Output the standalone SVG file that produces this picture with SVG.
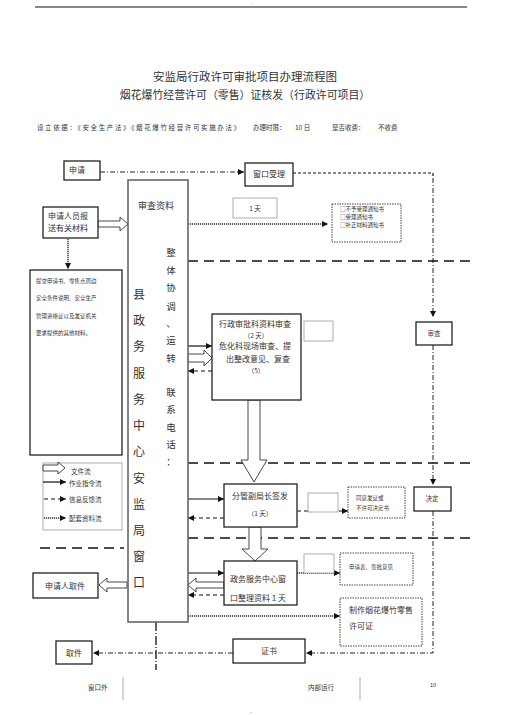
<svg xmlns="http://www.w3.org/2000/svg" width="505" height="715" viewBox="0 0 505 715">
<defs>
<style>
text{font-family:"Noto Sans CJK SC","Liberation Serif",serif;fill:#333}
.t8{font-size:8px}
.t7{font-size:6.5px}
.t6{font-size:5.5px}
.box{fill:#fff;stroke:#222;stroke-width:1.3}
.thin{fill:#fff;stroke:#999;stroke-width:0.8}
.dotbox{fill:#fff;stroke:#444;stroke-width:1;stroke-dasharray:1.5 1}
.hol{fill:#fff;stroke:#333;stroke-width:0.9}
.dashL{fill:none;stroke:#111;stroke-width:1.5;stroke-dasharray:10 6}
.dashS{fill:none;stroke:#111;stroke-width:1.2;stroke-dasharray:3 2}
.dashdot{fill:none;stroke:#222;stroke-width:1;stroke-dasharray:5 2 1 2}
.dot{fill:none;stroke:#333;stroke-width:1.4;stroke-dasharray:1.2 0.8}
.solid{fill:none;stroke:#111;stroke-width:1.2}
.fb{fill:none;stroke:#111;stroke-width:1.2;stroke-dasharray:4 3}
</style>
<marker id="ah" viewBox="0 0 10 10" refX="10" refY="5" markerWidth="6" markerHeight="6" markerUnits="userSpaceOnUse" orient="auto"><path d="M0,0 L10,5 L0,10 z" fill="#111"/></marker>
</defs>
<rect width="505" height="715" fill="#fff"/>
<line x1="35" y1="7" x2="467" y2="7" stroke="#111" stroke-width="1"/>
<text x="251" y="5.5" font-size="4" font-family="Liberation Sans,sans-serif" text-anchor="middle">-</text>
<text x="245" y="81" font-size="11.5" text-anchor="middle">安监局行政许可审批项目办理流程图</text>
<text x="245" y="99" font-size="10.9" text-anchor="middle">烟花爆竹经营许可（零售）证核发（行政许可项目）</text>
<text x="37" y="130" class="t7" textLength="203">设立依据：《安全生产法》《烟花爆竹经营许可实施办法》</text>
<text x="253" y="130" class="t7">办理时限：</text>
<text x="295" y="130" class="t7" font-family="Liberation Mono,monospace">10 日</text>
<text x="332" y="130" class="t7">是否收费：</text>
<text x="378" y="130" class="t7">不收费</text>

<g id="connectors">
<line x1="100" y1="172" x2="244" y2="172" class="dashdot" marker-end="url(#ah)"/>
<polyline points="293,173 433,173 433,178" class="dashS"/>
<line x1="433" y1="178" x2="433" y2="317" class="dashdot" marker-end="url(#ah)"/>
<line x1="433" y1="345" x2="433" y2="485" class="dashdot" marker-end="url(#ah)"/>
<polyline points="433,511 433,653 306,653" class="dashdot" marker-end="url(#ah)"/>
<line x1="233" y1="653" x2="93" y2="653" class="dashdot" marker-end="url(#ah)"/>
<line x1="156" y1="622" x2="156" y2="670" fill="none" stroke="#222" stroke-width="1.4" stroke-dasharray="9 2 1 2"/>
<line x1="188" y1="261" x2="470" y2="261" class="dashL"/>
<line x1="188" y1="463" x2="470" y2="463" class="dashL"/>
<line x1="188" y1="538" x2="470" y2="538" class="dashL"/>
<line x1="40" y1="548" x2="124" y2="548" class="dashL"/>
<polygon points="98,221 120,221 120,217 128,224 120,231 120,227 98,227" class="hol"/>
<line x1="68" y1="239" x2="68" y2="269" class="dot" marker-end="url(#ah)"/>
<line x1="188" y1="224" x2="328" y2="224" class="dot" marker-end="url(#ah)"/>
<line x1="188" y1="346" x2="212" y2="346" class="solid" marker-end="url(#ah)"/>
<polygon points="188,354 204,354 204,350 212,358 204,366 204,362 188,362" class="hol"/>
<line x1="212" y1="371" x2="188" y2="371" class="fb" marker-end="url(#ah)"/>
<polygon points="248,400 260,400 260,460 267,460 254,482 241,460 248,460" class="hol"/>
<line x1="188" y1="499" x2="224" y2="499" class="solid" marker-end="url(#ah)"/>
<line x1="224" y1="518" x2="188" y2="518" class="fb" marker-end="url(#ah)"/>
<line x1="297" y1="511" x2="348" y2="511" class="fb" marker-end="url(#ah)"/>
<polygon points="249,527 261,527 261,549 268,549 255,561 242,549 249,549" class="hol"/>
<line x1="188" y1="573" x2="224" y2="573" class="solid" marker-end="url(#ah)"/>
<polygon points="224,582 196,582 196,578 188,585 196,592 196,588 224,588" class="hol"/>
<line x1="224" y1="595" x2="188" y2="595" class="fb" marker-end="url(#ah)"/>
<polygon points="127,582 107,582 107,578 99,585 107,592 107,588 127,588" class="hol"/>
<line x1="297" y1="573" x2="340" y2="573" class="dot" marker-end="url(#ah)"/>
<line x1="188" y1="616" x2="340" y2="616" class="dot" marker-end="url(#ah)"/>
</g>

<g id="n-apply"><rect x="64" y="161" width="36" height="19" class="box"/><text x="69" y="173" class="t8">申请</text></g>
<g id="n-window"><rect x="245" y="163" width="48" height="23" class="box"/><text x="269" y="177" class="t8" text-anchor="middle">窗口受理</text></g>
<g id="n-submit"><rect x="43" y="207" width="55" height="31" class="box" stroke-width="1"/><text x="48" y="219" class="t8">申请人员报</text><text x="48" y="231" class="t8">送有关材料</text></g>
<g id="n-materials"><rect x="30" y="270" width="92" height="185" class="box" stroke-width="1"/>
<text x="36" y="283" class="t6">提交申请书、零售点周边</text>
<text x="36" y="300" class="t6">安全条件说明、安全生产</text>
<text x="36" y="318" class="t6">管理资格证以及发证机关</text>
<text x="36" y="335" class="t6">要求提供的其他材料。</text></g>
<g id="n-center"><rect x="128" y="180" width="60" height="442" fill="#fff" stroke="#666" stroke-width="1.6"/>
<text x="156" y="209" font-size="9" text-anchor="middle">审查资料</text>
<g font-size="12" text-anchor="middle">
<text x="139" y="299">县</text><text x="139" y="325">政</text><text x="139" y="351">务</text><text x="139" y="378">服</text><text x="139" y="404">务</text><text x="139" y="430">中</text><text x="139" y="456">心</text><text x="139" y="483">安</text><text x="139" y="509">监</text><text x="139" y="535">局</text><text x="139" y="561">窗</text><text x="139" y="587">口</text>
</g>
<g font-size="9.5" text-anchor="middle">
<text x="171" y="256">整</text><text x="171" y="274">体</text><text x="171" y="291">协</text><text x="171" y="310">调</text><text x="171" y="327">、</text><text x="171" y="344">运</text><text x="171" y="362">转</text><text x="171" y="396">联</text><text x="171" y="413">系</text><text x="171" y="431">电</text><text x="171" y="448">话</text><text x="171" y="465">：</text>
</g></g>
<g id="n-1day"><rect x="233" y="198" width="44" height="20" class="thin"/><text x="255" y="211" class="t7" text-anchor="middle">1 天</text></g>
<g id="n-notice"><rect x="332" y="204" width="69" height="38" class="dotbox"/>
<text x="340" y="211" class="t6">□不予受理通知书</text><text x="340" y="219" class="t6">□受理通知书</text><text x="340" y="227" class="t6">□补正材料通知书</text></g>
<g id="n-review"><rect x="212" y="314" width="89" height="86" class="box" stroke-width="1"/>
<text x="219" y="327" class="t8">行政审批科资料审查</text>
<text x="256" y="338" class="t7" text-anchor="middle">（2 天）</text>
<text x="219" y="349" class="t8">危化科现场审查、提</text>
<text x="226" y="362" class="t8">出整改意见、复查</text>
<text x="256" y="373" class="t7" text-anchor="middle">（5）</text></g>
<g id="n-blank1"><rect x="304" y="321" width="29" height="20" class="thin"/></g>
<g id="n-check"><rect x="416" y="322" width="36" height="23" class="box"/><text x="434" y="336" class="t7" text-anchor="middle">审查</text></g>
<g id="n-deputy"><rect x="224" y="484" width="73" height="43" class="box" stroke-width="1"/>
<text x="260" y="499" class="t8" text-anchor="middle">分管副局长签发</text>
<text x="260" y="516" class="t7" text-anchor="middle">（1 天）</text></g>
<g id="n-blank2"><rect x="308" y="493" width="30" height="19" class="thin"/></g>
<g id="n-decision-doc"><rect x="348" y="487" width="57" height="31" class="dotbox"/>
<text x="356" y="500" class="t6">同意发证或</text><text x="356" y="510" class="t6">不许可决定书</text></g>
<g id="n-decide"><rect x="414" y="487" width="37" height="24" class="box"/><text x="432" y="501" class="t7" text-anchor="middle">决定</text></g>
<g id="n-winproc"><rect x="224" y="561" width="73" height="44" class="box" stroke-width="1"/>
<text x="230" y="582" class="t8">政务服务中心窗</text>
<text x="230" y="601" class="t8">口整理资料 1 天</text></g>
<g id="n-blank3"><rect x="304" y="554" width="30" height="19" class="thin"/></g>
<g id="n-form"><rect x="340" y="553" width="73" height="32" class="dotbox"/><text x="349" y="569" class="t6">申请表、签批意见</text></g>
<g id="n-make"><rect x="340" y="598" width="82" height="48" class="dotbox"/>
<text x="349" y="613" class="t8">制作烟花爆竹零售</text><text x="349" y="629" class="t8">许可证</text></g>
<g id="n-pickup-app"><rect x="33" y="573" width="65" height="25" class="box" stroke-width="1"/><text x="65" y="589" class="t8" text-anchor="middle">申请人取件</text></g>
<g id="n-cert"><rect x="233" y="639" width="72" height="24" class="box" stroke-width="1"/><text x="269" y="654" class="t8" text-anchor="middle">证书</text></g>
<g id="n-pickup"><rect x="56" y="641" width="36" height="23" class="box" stroke-width="1"/><text x="74" y="656" class="t8" text-anchor="middle">取件</text></g>
<g id="n-legend"><rect x="43" y="463" width="79" height="67" class="thin"/>
<polygon points="43,465 58,465 58,462 65,468 58,474 58,471 43,471" class="hol"/>
<text x="71" y="474" class="t7">文件流</text>
<line x1="43" y1="482" x2="66" y2="482" class="solid" marker-end="url(#ah)"/>
<text x="69" y="486" class="t7">作业指令流</text>
<line x1="44" y1="499" x2="66" y2="499" class="fb" marker-end="url(#ah)"/>
<text x="69" y="502" class="t7">信息反馈流</text>
<line x1="44" y1="518" x2="66" y2="518" class="dot" marker-end="url(#ah)"/>
<text x="69" y="521" class="t7">配套资料流</text></g>
<text x="88" y="690" class="t7">窗口外</text>
<line x1="123" y1="677" x2="123" y2="700" stroke="#999" stroke-width="0.8"/>
<text x="308" y="690" class="t7">内部运行</text>
<line x1="360" y1="677" x2="360" y2="700" stroke="#999" stroke-width="0.8"/>
<text x="430" y="687" font-size="5.5" font-family="Liberation Sans,sans-serif">10</text>
<text x="251" y="713" font-size="5" text-anchor="middle">.</text>
</svg>
